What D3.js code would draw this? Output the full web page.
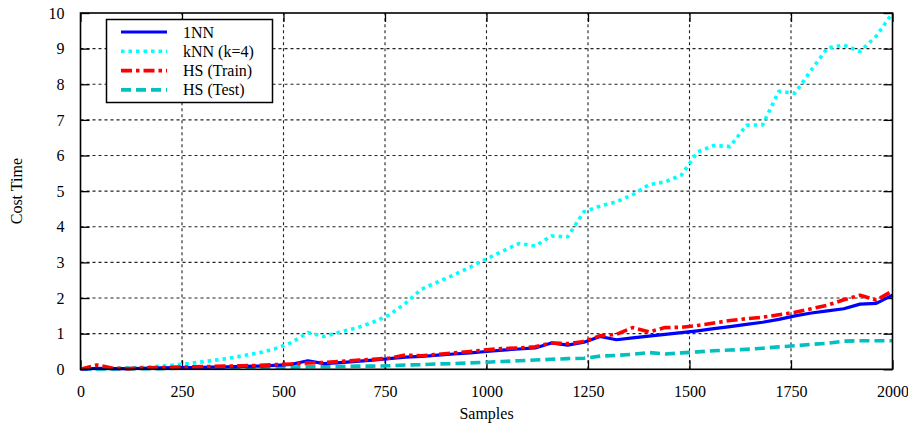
<!DOCTYPE html>
<html>
<head>
<meta charset="utf-8">
<script src="https://cdn.jsdelivr.net/npm/d3@7"></script>
<style>
  html, body { margin: 0; padding: 0; background: #fff; }
  svg { display: block; font-family: "Liberation Serif", "Times New Roman", serif; }
</style>
</head>
<body>
<svg id="chart" width="908" height="427"></svg>
<script>
// Sample counts (x) shared by all series
const samples = d3.range(0, 2001, 40);

// Cost time per method
const nn1 = [0.00,0.03,0.02,0.02,0.03,0.04,0.05,0.05,0.06,0.07,0.08,0.09,0.11,0.14,0.24,0.16,0.19,0.22,0.26,0.30,
  0.34,0.36,0.40,0.43,0.46,0.50,0.54,0.57,0.60,0.74,0.68,0.76,0.92,0.83,0.88,0.93,0.98,1.03,1.08,1.14,
  1.20,1.26,1.32,1.40,1.50,1.58,1.64,1.70,1.83,1.85,2.08];
const knn4 = [0.00,0.01,0.02,0.04,0.06,0.09,0.13,0.18,0.24,0.30,0.38,0.46,0.58,0.75,1.03,0.92,1.05,1.16,1.32,1.52,
  1.85,2.25,2.45,2.65,2.87,3.10,3.32,3.53,3.46,3.74,3.72,4.42,4.58,4.70,4.90,5.18,5.26,5.45,6.10,6.28,
  6.25,6.85,6.86,7.80,7.75,8.40,9.02,9.10,8.92,9.35,10.0];
const hsTrain = [0.00,0.12,0.03,0.02,0.04,0.05,0.06,0.07,0.08,0.09,0.10,0.11,0.13,0.15,0.18,0.19,0.22,0.25,0.28,0.31,
  0.40,0.38,0.42,0.46,0.50,0.55,0.58,0.60,0.63,0.74,0.72,0.78,0.94,0.98,1.17,1.05,1.17,1.18,1.23,1.30,
  1.37,1.42,1.46,1.53,1.60,1.70,1.80,1.95,2.08,1.94,2.20];
const hsTest = [0.00,0.01,0.01,0.02,0.02,0.02,0.03,0.03,0.03,0.04,0.04,0.05,0.05,0.06,0.07,0.07,0.08,0.09,0.09,0.10,
  0.12,0.13,0.15,0.16,0.18,0.20,0.22,0.24,0.26,0.28,0.30,0.31,0.37,0.39,0.42,0.47,0.43,0.46,0.49,0.52,
  0.54,0.56,0.59,0.63,0.66,0.70,0.73,0.79,0.80,0.80,0.80];

const seriesNames = ["1NN", "kNN (k=4)", "HS (Train)", "HS (Test)"];
const xTicks = [0, 250, 500, 750, 1000, 1250, 1500, 1750, 2000];
const yTicks = [0, 1, 2, 3, 4, 5, 6, 7, 8, 9, 10];

const series = [
  { name: seriesNames[0], values: nn1,     color: "#0000ff", dash: null,           width: 3.2 },
  { name: seriesNames[1], values: knn4,    color: "#00ffff", dash: "3.5,4",        width: 3.6 },
  { name: seriesNames[2], values: hsTrain, color: "#ff0000", dash: "11,4,3.5,4",   width: 3.6 },
  { name: seriesNames[3], values: hsTest,  color: "#00c0c0", dash: "10,5",         width: 3.6 }
];

const margin = { left: 80.5, right: 15.5, top: 13, bottom: 57.7 };
const W = 908, H = 427;
const svg = d3.select("#chart");

const x = d3.scaleLinear().domain([0, 2000]).range([margin.left, W - margin.right]);
const y = d3.scaleLinear().domain([0, 10]).range([H - margin.bottom, margin.top]);

const plot = svg.append("g");

// dashed grid
plot.append("g").selectAll("line").data(xTicks.slice(1, -1)).join("line")
  .attr("x1", d => x(d)).attr("x2", d => x(d))
  .attr("y1", y(0)).attr("y2", y(10))
  .attr("stroke", "#222").attr("stroke-width", 1.1).attr("stroke-dasharray", "3,3");
plot.append("g").selectAll("line").data(yTicks.slice(1, -1)).join("line")
  .attr("x1", x(0)).attr("x2", x(2000))
  .attr("y1", d => y(d)).attr("y2", d => y(d))
  .attr("stroke", "#222").attr("stroke-width", 1.1).attr("stroke-dasharray", "3,3");

// inward ticks on all four sides
const tickLen = 9;
const axB = d3.axisBottom(x).tickValues(xTicks).tickSize(-tickLen).tickPadding(16).tickFormat(d3.format("d"));
const axT = d3.axisTop(x).tickValues(xTicks).tickSize(-tickLen).tickFormat("");
const axL = d3.axisLeft(y).tickValues(yTicks).tickSize(-tickLen).tickPadding(16).tickFormat(d3.format("d"));
const axR = d3.axisRight(y).tickValues(yTicks).tickSize(-tickLen).tickFormat("");

function styleAxis(g) {
  g.select(".domain").remove();
  g.selectAll(".tick line").attr("stroke", "#000").attr("stroke-width", 1.3);
  g.selectAll(".tick text").attr("fill", "#000")
    .style("font-family", '"Liberation Serif", serif').style("font-size", "16px");
}
svg.append("g").attr("transform", `translate(0,${y(0)})`).call(axB).call(styleAxis);
svg.append("g").attr("transform", `translate(0,${y(10)})`).call(axT).call(styleAxis);
svg.append("g").attr("transform", `translate(${x(0)},0)`).call(axL).call(styleAxis);
svg.append("g").attr("transform", `translate(${x(2000)},0)`).call(axR).call(styleAxis);

// data lines
const line = d3.line().x((d, i) => x(samples[i])).y(d => y(d));
const clipId = "plotclip";
svg.append("clipPath").attr("id", clipId).append("rect")
  .attr("x", x(0)).attr("y", y(10) - 2).attr("width", x(2000) - x(0) + 2).attr("height", y(0) - y(10) + 4);
const linesG = svg.append("g").attr("clip-path", `url(#${clipId})`);
// drawing order: HS test at the back
[series[3], series[1], series[0], series[2]].forEach(s => {
  linesG.append("path").datum(s.values)
    .attr("d", line)
    .attr("fill", "none")
    .attr("stroke", s.color)
    .attr("stroke-width", s.width)
    .attr("stroke-dasharray", s.dash)
    .attr("stroke-linejoin", "round");
});

// frame
svg.append("rect")
  .attr("x", x(0)).attr("y", y(10)).attr("width", x(2000) - x(0)).attr("height", y(0) - y(10))
  .attr("fill", "none").attr("stroke", "#000").attr("stroke-width", 1.6);

// legend
const lg = svg.append("g");
lg.append("rect").attr("x", 106.5).attr("y", 19.5).attr("width", 166).attr("height", 83)
  .attr("fill", "#fff").attr("stroke", "#000").attr("stroke-width", 1.5);
series.forEach((s, i) => {
  const yy = 32 + i * 19.3;
  lg.append("line").attr("x1", 121).attr("x2", 167).attr("y1", yy).attr("y2", yy)
    .attr("stroke", s.color).attr("stroke-width", s.width).attr("stroke-dasharray", s.dash);
  lg.append("text").attr("x", 183).attr("y", yy + 5.5).text(s.name)
    .style("font-size", "16px").attr("fill", "#000");
});

// axis titles
svg.append("text").attr("x", (x(0) + x(2000)) / 2).attr("y", 419).attr("text-anchor", "middle")
  .style("font-size", "16px").text("Samples");
svg.append("text").attr("transform", `translate(22,${(y(0) + y(10)) / 2}) rotate(-90)`)
  .attr("text-anchor", "middle").style("font-size", "16px").text("Cost Time");
</script>
</body>
</html>
